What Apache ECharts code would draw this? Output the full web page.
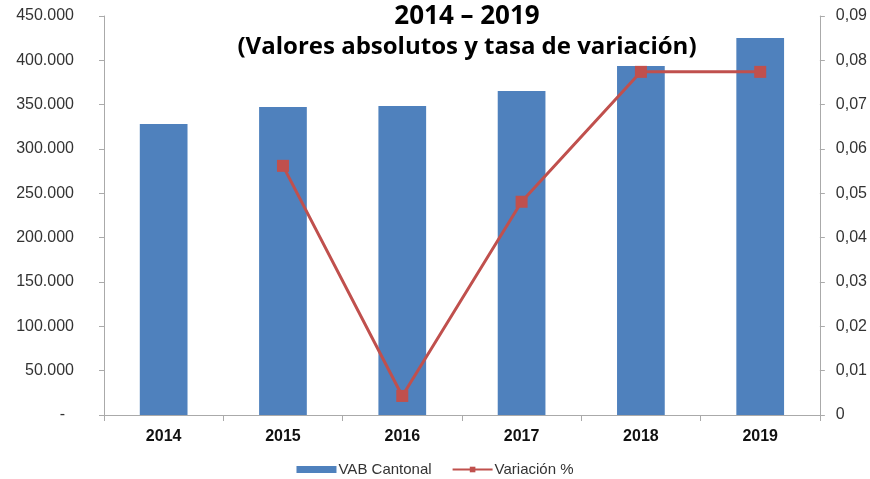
<!DOCTYPE html>
<html>
<head>
<meta charset="utf-8">
<script src="https://cdn.jsdelivr.net/npm/echarts@6/dist/echarts.min.js"></script>
<style>
html,body{margin:0;padding:0;background:#fff;}
#main{width:870px;height:479px;}
</style>
</head>
<body>
<div id="main"></div>
<script>
var years = ['2014', '2015', '2016', '2017', '2018', '2019'];
var vabCantonal = [328200, 347400, 348500, 365400, 393600, 425200];
var variacion = [null, 0.0562, 0.0043, 0.0481, 0.0774, 0.0774];

var myChart = echarts.init(document.getElementById('main'));
myChart.setOption({
    animation: false,
    title: {
        text: '{a|2014 – 2019}\n{b|(Valores absolutos y tasa de variación)}',
        left: 462,
        top: -3,
        textAlign: 'center',
        textStyle: {
            rich: {
                a: {fontFamily: 'Open Sans', fontWeight: 'bold', fontSize: 26, lineHeight: 30, color: '#000'},
                b: {fontFamily: 'Open Sans', fontWeight: 'bold', fontSize: 24, lineHeight: 30, color: '#000'}
            }
        }
    },
    legend: {
        top: 457,
        left: 'center',
        itemGap: 20,
        itemWidth: 40,
        itemHeight: 7,
        textStyle: {fontFamily: 'Liberation Sans', fontSize: 15, color: '#333', padding: [0, 0, 0, -3]},
        data: [
            {name: 'VAB Cantonal', icon: 'rect'},
            {name: 'Variación %', itemStyle: {borderWidth: 2}}
        ]
    },
    grid: {left: 104, right: 48, top: 16, bottom: 64},
    xAxis: {
        type: 'category',
        data: years,
        axisLine: {lineStyle: {color: '#aaa'}},
        axisTick: {show: true, alignWithLabel: false, length: 6, lineStyle: {color: '#aaa'}},
        axisLabel: {fontFamily: 'Liberation Sans', fontWeight: 'bold', fontSize: 16, color: '#111', margin: 14}
    },
    yAxis: [
        {
            type: 'value',
            min: 0,
            max: 450000,
            interval: 50000,
            splitLine: {show: false},
            axisLine: {show: true, lineStyle: {color: '#aaa'}},
            axisTick: {show: true, length: 5, lineStyle: {color: '#aaa'}},
            axisLabel: {
                fontFamily: 'Liberation Sans', fontSize: 16, color: '#333', margin: 30,
                formatter: function (v) {
                    if (v === 0) return '-  ';
                    return (v / 1000) + '.000';
                }
            }
        },
        {
            type: 'value',
            min: 0,
            max: 0.09,
            interval: 0.01,
            splitLine: {show: false},
            axisLine: {show: true, lineStyle: {color: '#aaa'}},
            axisTick: {show: true, length: 5, lineStyle: {color: '#aaa'}},
            axisLabel: {
                fontFamily: 'Liberation Sans', fontSize: 16, color: '#333', margin: 16,
                formatter: function (v) {
                    if (v === 0) return '0';
                    return v.toFixed(2).replace('.', ',');
                }
            }
        }
    ],
    series: [
        {
            name: 'VAB Cantonal',
            type: 'bar',
            barWidth: '40%',
            itemStyle: {color: '#4F81BD'},
            data: vabCantonal
        },
        {
            name: 'Variación %',
            type: 'line',
            yAxisIndex: 1,
            symbol: 'rect',
            symbolSize: 12,
            lineStyle: {color: '#C0504D', width: 3},
            itemStyle: {color: '#C0504D'},
            data: variacion
        }
    ]
});
</script>
</body>
</html>
